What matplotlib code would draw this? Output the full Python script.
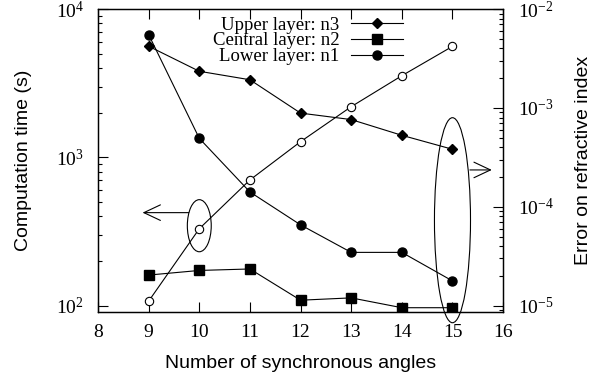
import matplotlib
matplotlib.use("Agg")
import matplotlib.pyplot as plt
from matplotlib.patches import Ellipse
from matplotlib.ticker import LogLocator, LogFormatterMathtext, NullFormatter

plt.rcParams["font.family"] = ["Liberation Serif", "DejaVu Serif"]
plt.rcParams["mathtext.fontset"] = "stix"

# data
angles = [9, 10, 11, 12, 13, 14, 15]
upper_n3 = [5620, 3810, 3340, 1990, 1800, 1410, 1135]
central_n2 = [161, 173, 177, 109, 113, 97, 97]
lower_n1 = [6735, 1345, 585, 351, 229, 229, 147]
error_index = [1.11e-5, 6.0e-5, 1.87e-4, 4.56e-4, 1.03e-3, 2.12e-3, 4.2e-3]

fig = plt.figure(figsize=(5.94, 3.80), dpi=100)
fig.subplots_adjust(left=0.165, right=0.847, bottom=0.179, top=0.976)
ax = fig.add_subplot(111)
ax2 = ax.twinx()

lw = 0.8
ax.plot(angles, upper_n3, "-D", color="black", lw=lw, ms=5.6, label="Upper layer: n3")
ax.plot(angles, central_n2, "-s", color="black", lw=lw, ms=6.5, label="Central layer: n2")
ax.plot(angles, lower_n1, "-o", color="black", lw=lw, ms=6.5, label="Lower layer: n1")
ax2.plot(angles, error_index, "-o", color="black", lw=lw, ms=6, mfc="white", mew=0.8)

ax.set_xlim(8, 16)
ax.set_xticks(range(8, 17))
ax.set_yscale("log")
ax.set_ylim(10 ** 1.958, 1e4)
ax2.set_yscale("log")
ax2.set_ylim(10 ** -5.064, 1e-2)

for a in (ax, ax2):
    a.yaxis.set_major_locator(LogLocator(base=10))
    a.yaxis.set_minor_locator(LogLocator(base=10, subs=range(2, 10)))
    a.yaxis.set_major_formatter(LogFormatterMathtext())
    a.yaxis.set_minor_formatter(NullFormatter())
    for s in a.spines.values():
        s.set_linewidth(0.9)

ax.tick_params(axis="both", which="both", direction="in", labelsize=14)
ax.tick_params(axis="x", top=True, length=7, width=0.8, pad=9)
ax.tick_params(axis="y", which="major", left=True, right=False, length=7.5, width=0.8, pad=10)
ax.tick_params(axis="y", which="minor", left=True, right=False, length=3, width=0.8)
ax2.tick_params(axis="y", which="major", direction="in", length=7.5, width=0.8, labelsize=14, pad=11)
ax2.tick_params(axis="y", which="minor", direction="in", length=3, width=0.8)

ax.set_xlabel("Number of synchronous angles", fontfamily="Liberation Sans", fontsize=14, labelpad=10)
ax.set_ylabel("Computation time (s)", fontfamily="Liberation Sans", fontsize=14, labelpad=17)
ax2.set_ylabel("Error on refractive index", fontfamily="Liberation Sans", fontsize=14, labelpad=15)

ax.legend(loc="upper right", bbox_to_anchor=(0.752, 0.975), frameon=False,
          markerfirst=False, fontsize=13.5, handlelength=2.75, handletextpad=0.62,
          labelspacing=-0.08, borderpad=0, borderaxespad=0)

# ellipses and arrows, placed in axes coordinates around the data points
to_axes = ax.transAxes.inverted()
cx1, cy1 = to_axes.transform(ax2.transData.transform((angles[1], error_index[1])))
ax.add_patch(Ellipse((cx1, cy1 + 0.01), 0.059, 0.172, transform=ax.transAxes,
                     fill=False, lw=0.8, ec="black", clip_on=False))
cx2, _ = to_axes.transform(ax2.transData.transform((angles[6], error_index[6])))
ax.add_patch(Ellipse((cx2, 0.303), 0.089, 0.677, transform=ax.transAxes,
                     fill=False, lw=0.8, ec="black", clip_on=False))

arrow = dict(arrowstyle="->,head_length=0.85,head_width=0.4", lw=0.8, color="black",
             shrinkA=0, shrinkB=0)
ax.annotate("", xy=(0.110, 0.328), xytext=(0.224, 0.328), xycoords="axes fraction",
            arrowprops=arrow, size=14)
ax.annotate("", xy=(0.972, 0.469), xytext=(0.918, 0.469), xycoords="axes fraction",
            arrowprops=arrow, size=14, annotation_clip=False)

fig.savefig("out.png", dpi=100)
